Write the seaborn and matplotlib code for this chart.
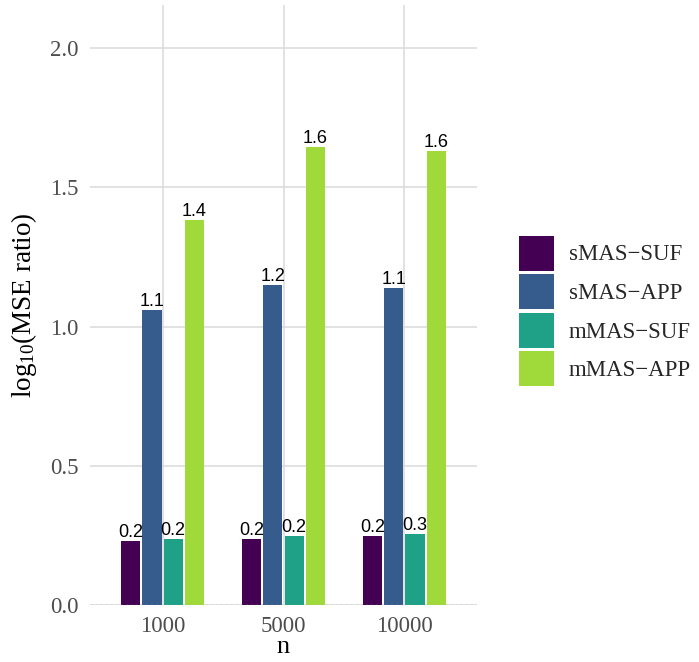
import matplotlib
matplotlib.use('Agg')
import matplotlib.pyplot as plt
import pandas as pd
import seaborn as sns

# values
sample_sizes = ['1000', '5000', '10000']
methods = ['sMAS\u2212SUF', 'sMAS\u2212APP', 'mMAS\u2212SUF', 'mMAS\u2212APP']
smas_suf = [0.23, 0.237, 0.248]
smas_app = [1.058, 1.151, 1.137]
mmas_suf = [0.237, 0.248, 0.256]
mmas_app = [1.381, 1.645, 1.629]
colors = ['#440154', '#365C8D', '#1FA187', '#9FDA3A']
y_ticks = [0.0, 0.5, 1.0, 1.5, 2.0]

rows = []
for method, vals in zip(methods, [smas_suf, smas_app, mmas_suf, mmas_app]):
    for n, v in zip(sample_sizes, vals):
        rows.append({'n': n, 'method': method, 'value': v})
df = pd.DataFrame(rows)

sns.set_theme(style='whitegrid')
plt.rcParams['font.family'] = ['Liberation Serif', 'DejaVu Serif']
plt.rcParams['mathtext.fontset'] = 'custom'
plt.rcParams['mathtext.rm'] = 'Liberation Serif'
plt.rcParams['mathtext.it'] = 'Liberation Serif:italic'

fig = plt.figure(figsize=(6.99, 6.62), dpi=100)
ax = fig.add_axes([90 / 699, 57 / 662, 387 / 699, 600 / 662])

sns.barplot(data=df, x='n', y='value', hue='method', order=sample_sizes,
            hue_order=methods, palette=colors, width=0.7, gap=0.1,
            errorbar=None, saturation=1, linewidth=0, ax=ax, zorder=2)

for cont in ax.containers:
    ax.bar_label(cont, fmt='%.1f', padding=0, fontsize=13, color='black',
                 family=['Liberation Sans', 'DejaVu Sans'], zorder=5)

# dotted reference line at zero
ax.axhline(0, color='#A0A0A0', lw=0.9, ls=(0, (2, 2)), zorder=4)

ax.set_xlim(-0.6, 2.6)
ax.set_ylim(0, 2.155)
ax.set_yticks(y_ticks)
ax.set_yticklabels([f'{t:.1f}' for t in y_ticks])
ax.grid(True, color='#DADADA', lw=1.1, zorder=0)
ax.set_axisbelow(True)
for s in ax.spines.values():
    s.set_visible(False)
ax.set_facecolor('white')
ax.tick_params(axis='both', length=0, labelsize=16.5, labelcolor='#4D4D4D')
ax.tick_params(axis='y', pad=8)
ax.tick_params(axis='x', pad=8)

ax.set_xlabel('n', fontsize=19, color='black', labelpad=-1)
ax.set_ylabel(r'log$_{10}$(MSE ratio)', fontsize=19.5, color='black', labelpad=8)

handles, labels = ax.get_legend_handles_labels()
ax.legend(handles, labels, loc='center left', bbox_to_anchor=(519 / 699, 1 - 311 / 662),
          bbox_transform=fig.transFigure, frameon=False, fontsize=16.5,
          handlelength=1.53, handleheight=1.98, labelspacing=0.15,
          handletextpad=0.65, borderpad=0, borderaxespad=0, title=None)

fig.savefig('out.png', dpi=100)
